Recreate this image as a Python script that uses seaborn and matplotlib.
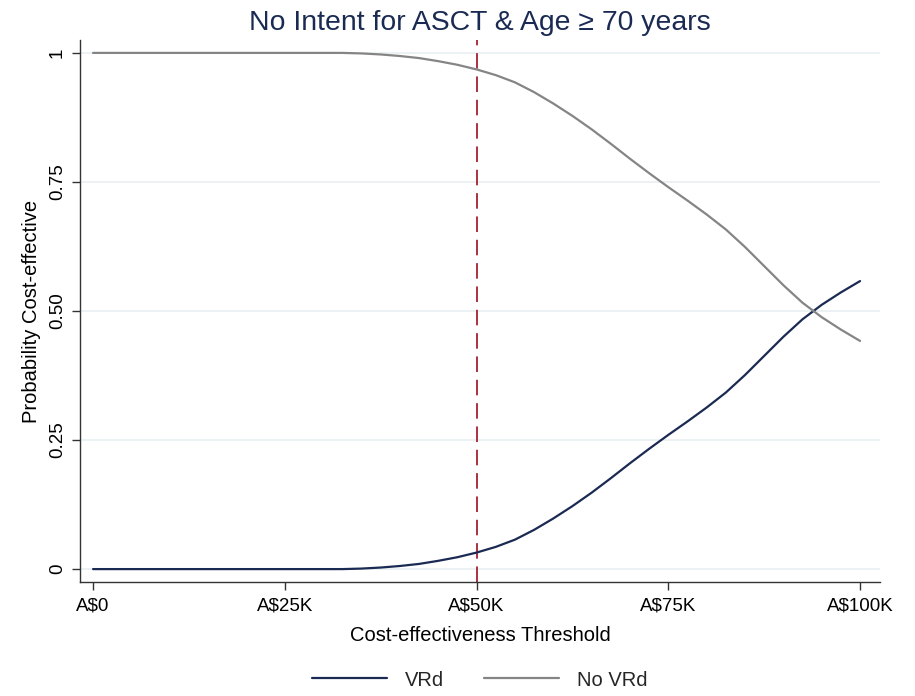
import matplotlib
matplotlib.use("Agg")
import matplotlib.pyplot as plt
import seaborn as sns
import pandas as pd

# Willingness-to-pay thresholds (A$ thousands) and acceptability curves
threshold_k = [0, 2.5, 5, 7.5, 10, 12.5, 15, 17.5, 20, 22.5, 25, 27.5, 30, 32.5,
               35, 37.5, 40, 42.5, 45, 47.5, 50, 52.5, 55, 57.5, 60, 62.5, 65,
               67.5, 70, 72.5, 75, 77.5, 80, 82.5, 85, 87.5, 90, 92.5, 95, 97.5, 100]
prob_vrd = [0, 0, 0, 0, 0, 0, 0, 0, 0, 0, 0, 0, 0, 0,
            0.001, 0.003, 0.006, 0.010, 0.016, 0.023, 0.032, 0.043, 0.057, 0.076,
            0.098, 0.122, 0.148, 0.176, 0.205, 0.233, 0.260, 0.286, 0.313, 0.342,
            0.376, 0.413, 0.450, 0.484, 0.512, 0.536, 0.558]
prob_no_vrd = [1, 1, 1, 1, 1, 1, 1, 1, 1, 1, 1, 1, 1, 1,
               0.999, 0.997, 0.994, 0.990, 0.984, 0.977, 0.968, 0.957, 0.943, 0.924,
               0.902, 0.878, 0.852, 0.824, 0.795, 0.767, 0.740, 0.714, 0.687, 0.658,
               0.624, 0.587, 0.550, 0.516, 0.488, 0.464, 0.442]
series_names = ["VRd", "No VRd"]
x_ticks = [0, 25, 50, 75, 100]
x_tick_labels = ["A$0", "A$25K", "A$50K", "A$75K", "A$100K"]
y_ticks = [0, 0.25, 0.5, 0.75, 1]
y_tick_labels = ["0", "0.25", "0.50", "0.75", "1"]
reference_threshold = 50

sns.set_theme(style="white")
plt.rcParams["font.family"] = ["Liberation Sans", "DejaVu Sans"]

df = pd.DataFrame({
    "threshold": threshold_k * 2,
    "prob": prob_vrd + prob_no_vrd,
    "strategy": [series_names[0]] * len(threshold_k) + [series_names[1]] * len(threshold_k),
})

navy = "#1a2a52"
grey = "#858585"

fig = plt.figure(figsize=(9.15, 6.96), dpi=100)
ax = fig.add_axes([80 / 915, 1 - 582 / 696, 800 / 915, 542 / 696])

for yv in y_ticks:
    ax.axhline(yv, color="#eaf1f3", lw=1.3, zorder=0)

sns.lineplot(data=df, x="threshold", y="prob", hue="strategy",
             palette={series_names[0]: navy, series_names[1]: grey},
             linewidth=1.6, ax=ax, legend=False, zorder=3)

ax.axvline(reference_threshold, color="#a8323e", lw=1.4,
           dashes=(8, 4), zorder=2)

ax.set_xlim(-1.7, 102.6)
ax.set_ylim(-0.025, 1.025)
ax.set_xticks(x_ticks)
ax.set_xticklabels(x_tick_labels)
ax.set_yticks(y_ticks)
ax.set_yticklabels(y_tick_labels, rotation=90, va="center")
ax.tick_params(axis="both", direction="out", length=6, width=1,
               color="#333333", labelsize=13.5, labelcolor="black")
ax.tick_params(axis="x", pad=5.5)
ax.tick_params(axis="y", pad=4)
ax.tick_params(axis="both", bottom=True, left=True)

for side in ["top", "right"]:
    ax.spines[side].set_visible(False)
for side in ["left", "bottom"]:
    ax.spines[side].set_color("#333333")
    ax.spines[side].set_linewidth(1.0)

ax.set_xlabel("Cost-effectiveness Threshold", fontsize=14.5, color="black", labelpad=8)
ax.set_ylabel("Probability Cost-effective", fontsize=14.5, color="black", labelpad=6)

fig.text(480 / 915, 1 - 23 / 696, "No Intent for ASCT & Age \u2265 70 years",
         ha="center", va="center", fontsize=20.4, color="#1a2a52")

handles = [plt.Line2D([], [], color=navy, lw=1.6),
           plt.Line2D([], [], color=grey, lw=1.6)]
fig.legend(handles, series_names, loc="center", bbox_to_anchor=(480 / 915, 1 - 680 / 696),
           ncol=2, frameon=False, fontsize=14.5, handlelength=3.7,
           handletextpad=0.9, columnspacing=2.0)

fig.savefig("out.png", dpi=100, facecolor="white")
